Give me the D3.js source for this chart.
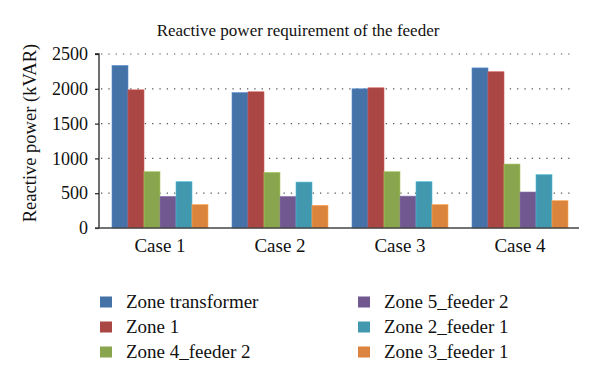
<!DOCTYPE html>
<html><head><meta charset="utf-8">
<script src="https://cdn.jsdelivr.net/npm/d3@7/dist/d3.min.js"></script>
<style>body{margin:0;background:#fff;} svg text{font-family:"Liberation Serif","DejaVu Serif",serif !important;fill:#111;}</style>
</head><body><svg id="c" width="600" height="385"></svg>
<script>
const categories = ["Case 1","Case 2","Case 3","Case 4"];
const seriesNames = ["Zone transformer","Zone 1","Zone 4_feeder 2","Zone 5_feeder 2","Zone 2_feeder 1","Zone 3_feeder 1"];
const zoneTransformer = [2335,1945,2000,2300];
const zone1 = [1985,1957,2014,2245];
const zone4Feeder2 = [809,799,809,919];
const zone5Feeder2 = [454,452,458,517];
const zone2Feeder1 = [665,660,665,766];
const zone3Feeder1 = [335,325,335,392];
const seriesValues = [zoneTransformer,zone1,zone4Feeder2,zone5Feeder2,zone2Feeder1,zone3Feeder1];
const colors = ["#4572A7","#AA4643","#89A54E","#71588F","#4198AF","#DB843D"];
const yTicks = [0,500,1000,1500,2000,2500];

const svg = d3.select("#c");
const x = d3.scaleBand().domain(categories).range([100,580]).paddingInner(0.2).paddingOuter(0.1);
const x1 = d3.scaleBand().domain(seriesNames).range([0,x.bandwidth()]);
const y = d3.scaleLinear().domain([0,2500]).range([228,54]);

// grid
svg.append("g").selectAll("line").data(yTicks.filter(d=>d>0)).join("line")
  .attr("x1",101).attr("x2",574).attr("y1",d=>y(d)).attr("y2",d=>y(d))
  .attr("stroke","#555").attr("stroke-width",1.2).attr("stroke-dasharray","1.3 6");

// bars
const g = svg.append("g");
categories.forEach((c,ci)=>{
  seriesNames.forEach((s,si)=>{
    const v = seriesValues[si][ci];
    g.append("rect").attr("x",x(c)+x1(s)).attr("width",x1.bandwidth())
      .attr("y",y(v)).attr("height",y(0)-y(v)).attr("fill",colors[si])
      .attr("stroke",d3.color(colors[si]).brighter(0.6)).attr("stroke-width",0.6);
  });
});

// y axis
const ya = svg.append("g").attr("transform","translate(99,0)")
  .call(d3.axisLeft(y).tickValues(yTicks).tickFormat(d3.format("d")).tickSize(4).tickPadding(7));
ya.select(".domain").attr("stroke","#222").attr("stroke-width",1.3).attr("d","M-4,54H0V228");
ya.selectAll(".tick line").attr("stroke","#222").attr("stroke-width",1.2);
ya.selectAll(".tick text").attr("font-size",18).attr("fill","#111");

// x axis
svg.append("line").attr("x1",95).attr("x2",579).attr("y1",228).attr("y2",228).attr("stroke","#444").attr("stroke-width",1.5);
svg.append("g").selectAll("text").data(categories).join("text")
  .attr("x",d=>x(d)+x.bandwidth()/2).attr("y",252).attr("text-anchor","middle")
  .attr("font-size",19).text(d=>d);

// titles
svg.append("text").attr("x",298).attr("y",36).attr("text-anchor","middle").attr("font-size",17)
  .text("Reactive power requirement of the feeder");
svg.append("text").attr("transform","translate(36,133) rotate(-90)").attr("text-anchor","middle")
  .attr("font-size",18.5).text("Reactive power (kVAR)");

// legend
const legX = [100,358], legY = [302,327,352];
seriesNames.forEach((s,i)=>{
  const col = Math.floor(i/3), row = i%3;
  svg.append("rect").attr("x",legX[col]).attr("y",legY[row]-5.5).attr("width",12).attr("height",11).attr("fill",colors[i]);
  svg.append("text").attr("x",legX[col]+26).attr("y",legY[row]+6).attr("font-size",19).text(s);
});
</script></body></html>
